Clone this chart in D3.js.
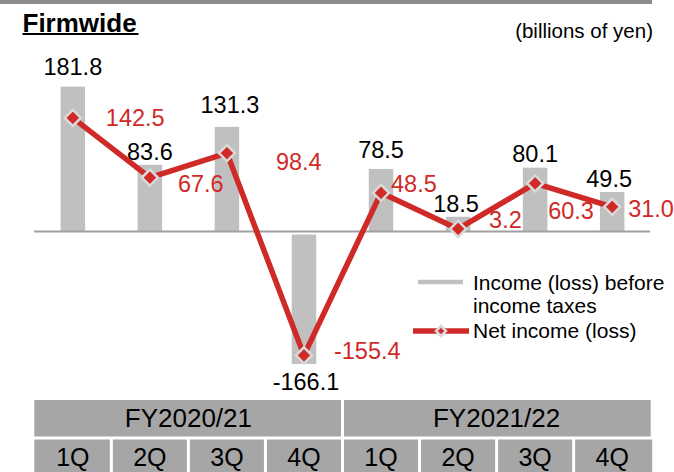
<!DOCTYPE html>
<html>
<head>
<meta charset="utf-8">
<script src="https://cdn.jsdelivr.net/npm/d3@7"></script>
<style>
  body { margin: 0; background: #fff; }
  svg { display: block; font-family: "Liberation Sans", Arial, sans-serif; }
</style>
</head>
<body>
<div id="chart"></div>
<script>
// data
var quarters = ["1Q", "2Q", "3Q", "4Q", "1Q", "2Q", "3Q", "4Q"];
var fiscalYears = ["FY2020/21", "FY2021/22"];
var incomeBeforeTaxes = [181.8, 83.6, 131.3, -166.1, 78.5, 18.5, 80.1, 49.5];
var netIncome = [142.5, 67.6, 98.4, -155.4, 48.5, 3.2, 60.3, 31.0];
var legendLabels = [["Income (loss) before", "income taxes"], ["Net income (loss)"]];

// label nudges (px) so texts don't collide, like the original
var barLabelDx = [0, 0, 3, 2, 0, -2, 0, -3];
var barLabelDy = [-12, -5, -14, 26, -11, -5, -6, -5];
var netLabelDx = [33, 28, 49, 30, 10, 31, 13, 16];
var netLabelDy = [8, 14, 17, 4, -1, -1, 36, 10];

var width = 674, height = 472;
var red = "#cf2a27", barColor = "#c0c0c0", cellColor = "#a6a6a6";

var svg = d3.select("#chart").append("svg")
  .attr("width", width)
  .attr("height", height);

var idx = d3.range(quarters.length);
var x = d3.scaleBand().domain(idx).range([34.3, 650.7]).padding(0);
var y = d3.scaleLinear().domain([-200, 200]).range([231.5 + 159.4, 231.5 - 159.4]);
var cx = function (i) { return x(i) + x.bandwidth() / 2; };
var barW = 24.5;

// top rule + titles
svg.append("rect").attr("x", 0).attr("y", 0).attr("width", 652).attr("height", 4).attr("fill", "#8c8c8c");
svg.append("text").attr("x", 22.5).attr("y", 31.5)
  .attr("font-size", 26).attr("font-weight", "bold").attr("fill", "#000")
  .text("Firmwide");
svg.append("line").attr("x1", 22.5).attr("x2", 138.5).attr("y1", 34).attr("y2", 34)
  .attr("stroke", "#000").attr("stroke-width", 2);
svg.append("text").attr("x", 653).attr("y", 37.5).attr("text-anchor", "end")
  .attr("font-size", 20.5).attr("fill", "#000")
  .text("(billions of yen)");

// bars
svg.selectAll(".bar").data(incomeBeforeTaxes).enter().append("rect")
  .attr("class", "bar")
  .attr("x", function (d, i) { return cx(i) - barW / 2; })
  .attr("y", function (d) { return d >= 0 ? y(d) : y(0) + 3; })
  .attr("width", barW)
  .attr("height", function (d) { return d >= 0 ? y(0) - y(d) : y(d) - y(0) - 3; })
  .attr("fill", barColor);

// zero line
svg.append("line").attr("x1", 34).attr("x2", 650).attr("y1", y(0)).attr("y2", y(0))
  .attr("stroke", "#a0a0a0").attr("stroke-width", 2);

// bar labels
svg.selectAll(".bar-label").data(incomeBeforeTaxes).enter().append("text")
  .attr("class", "bar-label")
  .attr("x", function (d, i) { return cx(i) + barLabelDx[i]; })
  .attr("y", function (d, i) { return y(d) + barLabelDy[i]; })
  .attr("text-anchor", "middle")
  .attr("font-size", 23.5).attr("fill", "#000")
  .text(function (d) { return d.toFixed(1); });

// net income line
var line = d3.line().x(function (d, i) { return cx(i); }).y(function (d) { return y(d); });
svg.append("path").datum(netIncome)
  .attr("d", line)
  .attr("fill", "none")
  .attr("stroke", red)
  .attr("stroke-width", 5.5)
  .attr("stroke-linejoin", "round");

var diamond = function (r) { return "M0," + (-r) + "L" + r + ",0L0," + r + "L" + (-r) + ",0Z"; };
svg.selectAll(".marker").data(netIncome).enter().append("path")
  .attr("class", "marker")
  .attr("transform", function (d, i) { return "translate(" + cx(i) + "," + y(d) + ")"; })
  .attr("d", diamond(8))
  .attr("fill", red)
  .attr("stroke", "#d9d9d9")
  .attr("stroke-width", 2.5);

svg.selectAll(".net-label").data(netIncome).enter().append("text")
  .attr("class", "net-label")
  .attr("x", function (d, i) { return cx(i) + netLabelDx[i]; })
  .attr("y", function (d, i) { return y(d) + netLabelDy[i]; })
  .attr("font-size", 23.5).attr("fill", red)
  .text(function (d) { return d.toFixed(1); });

// legend
var lg = svg.append("g");
lg.append("line").attr("x1", 418).attr("x2", 463).attr("y1", 282).attr("y2", 282)
  .attr("stroke", barColor).attr("stroke-width", 4.5);
lg.append("text").attr("x", 473).attr("font-size", 21).attr("fill", "#000")
  .selectAll("tspan").data(legendLabels[0]).enter().append("tspan")
  .attr("x", 473).attr("y", function (d, i) { return 290 + i * 23; })
  .text(function (d) { return d; });
lg.append("line").attr("x1", 413).attr("x2", 469).attr("y1", 331).attr("y2", 331)
  .attr("stroke", red).attr("stroke-width", 5.5);
lg.append("path").attr("transform", "translate(441,331)").attr("d", diamond(5))
  .attr("fill", red).attr("stroke", "#d9d9d9").attr("stroke-width", 2.5);
lg.append("text").attr("x", 473).attr("y", 338).attr("font-size", 21).attr("fill", "#000")
  .text(legendLabels[1][0]);

// table
var gap = 1.5;
var fyG = svg.selectAll(".fy").data(fiscalYears).enter().append("g").attr("class", "fy");
fyG.append("rect")
  .attr("x", function (d, i) { return x(i * 4) + (i === 0 ? 0 : gap); })
  .attr("y", 400)
  .attr("width", function (d, i) { return x.bandwidth() * 4 - gap; })
  .attr("height", 36.5)
  .attr("fill", cellColor);
fyG.append("text")
  .attr("x", function (d, i) { return x(i * 4) + x.bandwidth() * 2; })
  .attr("y", 427)
  .attr("text-anchor", "middle")
  .attr("font-size", 26).attr("fill", "#000")
  .text(function (d) { return d; });

var qG = svg.selectAll(".q").data(quarters).enter().append("g").attr("class", "q");
qG.append("rect")
  .attr("x", function (d, i) { return x(i) + (i === 0 ? 0 : gap); })
  .attr("y", 439.5)
  .attr("width", function (d, i) { return x.bandwidth() - (i === 0 || i === 7 ? gap : gap * 2) + (i === 7 ? gap : 0); })
  .attr("height", 40)
  .attr("fill", cellColor);
qG.append("text")
  .attr("x", function (d, i) { return cx(i); })
  .attr("y", 466)
  .attr("text-anchor", "middle")
  .attr("font-size", 25).attr("fill", "#000")
  .text(function (d) { return d; });
</script>
</body>
</html>
